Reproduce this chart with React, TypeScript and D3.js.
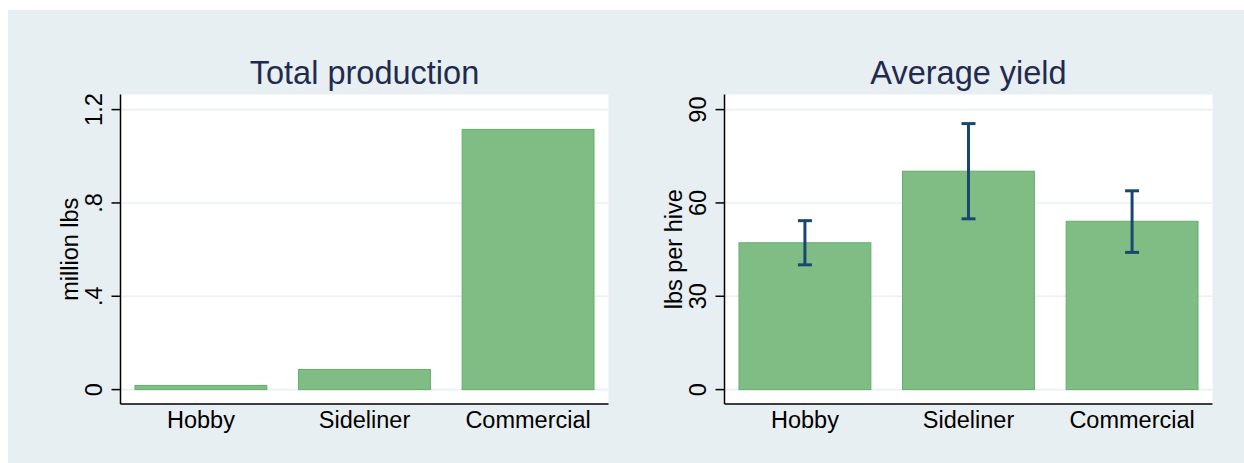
import React from "react";
import * as d3 from "d3";

// Operation size categories
const categories = ["Hobby", "Sideliner", "Commercial"];

// Total honey production, million lbs
const production = [0.018, 0.086, 1.115];
const productionTicks = [0, 0.4, 0.8, 1.2];
const productionTickLabels = ["0", ".4", ".8", "1.2"];

// Average yield, lbs per hive, with confidence interval bounds
const yieldMean = [47.2, 70.2, 54.1];
const yieldLow = [40.1, 54.9, 44.1];
const yieldHigh = [54.3, 85.5, 63.9];
const yieldTicks = [0, 30, 60, 90];
const yieldTickLabels = ["0", "30", "60", "90"];

const W = 1244;
const H = 463;
const FONT = "'Liberation Sans', Arial, Helvetica, sans-serif";
const BG = "#e8eff2";
const GRID = "#eaf0f3";
const BAR_FILL = "#80bd84";
const BAR_STROKE = "#64ad69";
const ERR = "#1a476f";
const TITLE = "#1f2b4f";

type PanelProps = {
  left: number;
  title: string;
  yTitle: string;
  values: number[];
  domain: [number, number];
  ticks: number[];
  tickLabels: string[];
  low?: number[];
  high?: number[];
};

function Panel({ left, title, yTitle, values, domain, ticks, tickLabels, low, high }: PanelProps) {
  const plotW = 488;
  const top = 94.5;
  const bottom = 404;
  const right = left + plotW;
  const y = d3.scaleLinear().domain(domain).range([389.6, 109.6]);
  const x = d3
    .scaleBand<string>()
    .domain(categories)
    .range([left + 14.5, right - 14.5])
    .paddingInner(0.194)
    .paddingOuter(0);
  const bw = x.bandwidth();
  const capHalf = 7;

  return (
    <g>
      <rect x={left} y={top} width={plotW} height={bottom - top} fill="#fff" />
      {ticks.map((t) => (
        <line key={"g" + t} x1={left} x2={right} y1={y(t)} y2={y(t)} stroke={GRID} strokeWidth={1.6} />
      ))}
      {values.map((v, i) => (
        <rect
          key={categories[i]}
          x={x(categories[i])!}
          y={y(v)}
          width={bw}
          height={y(0) - y(v)}
          fill={BAR_FILL}
          stroke={BAR_STROKE}
          strokeWidth={1}
        />
      ))}
      {low &&
        high &&
        categories.map((c, i) => {
          const cx = x(c)! + bw / 2;
          return (
            <g key={"e" + c} stroke={ERR} strokeWidth={3}>
              <line x1={cx} x2={cx} y1={y(high[i])} y2={y(low[i])} />
              <line x1={cx - capHalf} x2={cx + capHalf} y1={y(high[i])} y2={y(high[i])} />
              <line x1={cx - capHalf} x2={cx + capHalf} y1={y(low[i])} y2={y(low[i])} />
            </g>
          );
        })}
      {/* axes */}
      <line x1={left} x2={left} y1={top} y2={bottom} stroke="#000" strokeWidth={1.5} />
      <line x1={left} x2={right} y1={bottom} y2={bottom} stroke="#000" strokeWidth={1.5} />
      {ticks.map((t, i) => (
        <g key={"t" + t}>
          <line x1={left - 9} x2={left} y1={y(t)} y2={y(t)} stroke="#000" strokeWidth={1.5} />
          <text
            transform={`translate(${left - 18.3},${y(t)}) rotate(-90)`}
            textAnchor="middle"
            fontFamily={FONT}
            fontSize={23.5}
            fill="#000"
          >
            {tickLabels[i]}
          </text>
        </g>
      ))}
      {categories.map((c) => (
        <text
          key={"x" + c}
          x={x(c)! + bw / 2}
          y={428}
          textAnchor="middle"
          fontFamily={FONT}
          fontSize={23.5}
          fill="#000"
        >
          {c}
        </text>
      ))}
      <text
        transform={`translate(${left - 42.7},${(top + bottom) / 2}) rotate(-90)`}
        textAnchor="middle"
        fontFamily={FONT}
        fontSize={23.5}
        fill="#000"
      >
        {yTitle}
      </text>
      <text
        x={(left + right) / 2}
        y={84.3}
        textAnchor="middle"
        fontFamily={FONT}
        fontSize={32.5}
        fill={TITLE}
      >
        {title}
      </text>
    </g>
  );
}

export default function App() {
  return (
    <svg
      width={W}
      height={H}
      style={{ position: "absolute", left: 0, top: 0, display: "block" }}
    >
      <rect x={0} y={0} width={W} height={H} fill="#fff" />
      <rect x={8} y={10} width={W - 8} height={H - 10} fill={BG} />
      <Panel
        left={120.5}
        title="Total production"
        yTitle="million lbs"
        values={production}
        domain={[0, 1.2]}
        ticks={productionTicks}
        tickLabels={productionTickLabels}
      />
      <Panel
        left={724.5}
        title="Average yield"
        yTitle="lbs per hive"
        values={yieldMean}
        domain={[0, 90]}
        ticks={yieldTicks}
        tickLabels={yieldTickLabels}
        low={yieldLow}
        high={yieldHigh}
      />
    </svg>
  );
}
